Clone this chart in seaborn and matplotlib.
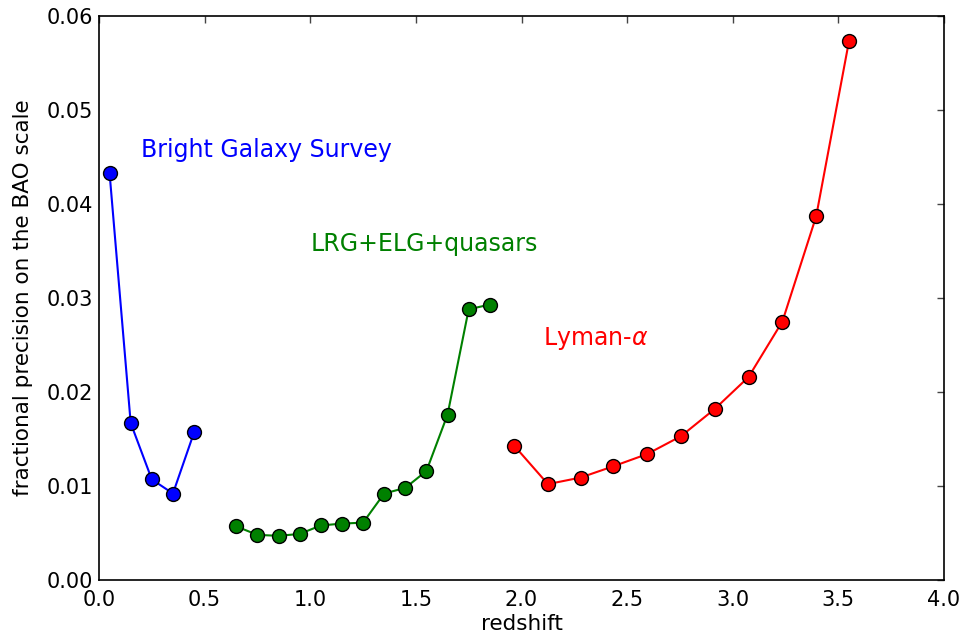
import matplotlib
matplotlib.use("Agg")
import matplotlib.pyplot as plt
from matplotlib.ticker import FormatStrFormatter, MultipleLocator
import seaborn as sns
import pandas as pd

bgs_z = [0.05, 0.15, 0.25, 0.35, 0.45]
bgs_prec = [0.0433, 0.0167, 0.0107, 0.0092, 0.0157]

lrg_z = [0.65, 0.75, 0.85, 0.95, 1.05, 1.15, 1.25, 1.35, 1.45, 1.55, 1.65, 1.75, 1.85]
lrg_prec = [0.0057, 0.0048, 0.0047, 0.0049, 0.0058, 0.0060, 0.0061,
            0.0092, 0.0098, 0.0116, 0.0176, 0.0288, 0.0293]

lya_z = [1.965, 2.125, 2.28, 2.435, 2.595, 2.755, 2.915, 3.075, 3.235, 3.395, 3.55]
lya_prec = [0.0143, 0.0102, 0.0109, 0.0121, 0.0134, 0.0153, 0.0182,
            0.0216, 0.0275, 0.0387, 0.0573]

labels = ["Bright Galaxy Survey", "LRG+ELG+quasars", r"Lyman-$\alpha$"]
colors = ["blue", "green", "red"]
label_pos = [(0.2, 0.045), (1.0, 0.035), (2.1, 0.025)]

sns.set_style("white")
plt.rcParams["font.family"] = ["DejaVu Sans"]
plt.rcParams["mathtext.fontset"] = "dejavusans"

fig = plt.figure(figsize=(9.68, 6.39), dpi=100)
ax = fig.add_axes([99 / 968, 1 - 580 / 639, 845 / 968, 564 / 639])

for z, p, c in zip([bgs_z, lrg_z, lya_z], [bgs_prec, lrg_prec, lya_prec], colors):
    df = pd.DataFrame({"z": z, "p": p})
    sns.lineplot(data=df, x="z", y="p", ax=ax, color=c, linewidth=1.5,
                 marker="o", markersize=10, markeredgecolor="black",
                 markeredgewidth=1.0, markerfacecolor=c)

for lab, (x, y), c in zip(labels, label_pos, colors):
    ax.text(x, y, lab, color=c, fontsize=17)

ax.set_xlim(0, 4.0)
ax.set_ylim(0, 0.06)
ax.xaxis.set_major_locator(MultipleLocator(0.5))
ax.yaxis.set_major_locator(MultipleLocator(0.01))
ax.xaxis.set_major_formatter(FormatStrFormatter("%.1f"))
ax.yaxis.set_major_formatter(FormatStrFormatter("%.2f"))
ax.tick_params(direction="in", length=5, width=1, top=True, right=True,
               labelsize=15, color="#444444", labelcolor="black")
ax.tick_params(axis="x", pad=7)
ax.tick_params(axis="y", pad=4)
for s in ax.spines.values():
    s.set_linewidth(1.2)
    s.set_color("black")
ax.set_xlabel("redshift", fontsize=15.5, labelpad=3, color="black")
ax.set_ylabel("fractional precision on the BAO scale", fontsize=15.5,
              labelpad=10, color="black")

fig.savefig("out.png", dpi=100)
